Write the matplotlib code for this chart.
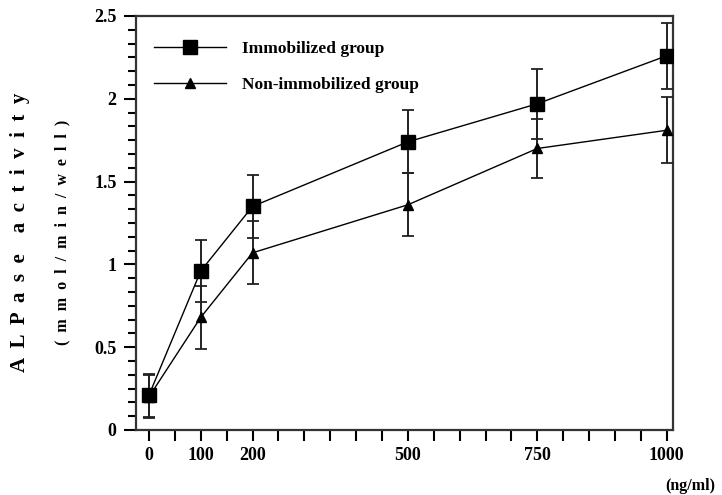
import numpy as np
import matplotlib
matplotlib.use('Agg')
from matplotlib import pyplot as plt
from matplotlib.ticker import MultipleLocator, FixedLocator

# DATA.
doses = [0, 100, 200, 500, 750, 1000]
immobilized = [0.21, 0.96, 1.35, 1.74, 1.97, 2.26]
immobilized_err = [0.13, 0.19, 0.19, 0.19, 0.21, 0.20]
non_immobilized = [0.20, 0.68, 1.07, 1.36, 1.70, 1.81]
non_immobilized_err = [0.13, 0.19, 0.19, 0.19, 0.18, 0.20]
x_tick_values = [0, 100, 200, 500, 750, 1000]
y_tick_values = [0, 0.5, 1, 1.5, 2, 2.5]
y_tick_labels = ['0', '0.5', '1', '1.5', '2', '2.5']

SERIF = ['Liberation Serif', 'DejaVu Serif']


def spaced(words, gap):
    # letter-spaced text, as in the original label
    return (' ' * (gap * 2)).join((' ' * gap).join(w) for w in words)


def main():
    plt.rcParams['font.family'] = SERIF
    plt.rcParams['font.weight'] = 'bold'

    fig = plt.figure(figsize=(7.22, 4.95), dpi=100)
    ax = fig.add_axes([136 / 722, 1 - 430 / 495, (673 - 136) / 722, (430 - 16) / 495])

    # SERIES.
    ax.errorbar(doses, immobilized, yerr=immobilized_err, color='black', lw=1.0,
                linestyle=(0, (4, 1)), marker='s', markersize=10, markerfacecolor='black',
                ecolor='#222222', elinewidth=1.4, capsize=4.5, capthick=1.3,
                label='Immobilized group', zorder=3)
    ax.errorbar(doses, non_immobilized, yerr=non_immobilized_err, color='black', lw=1.0,
                linestyle=(0, (4, 1)), marker='^', markersize=6.5, markerfacecolor='black',
                ecolor='#222222', elinewidth=1.4, capsize=4.5, capthick=1.3,
                label='Non-immobilized group', zorder=3)

    # AXES.
    ax.set_xlim(-25, 1012)
    ax.set_ylim(0, 2.5)
    ax.xaxis.set_major_locator(FixedLocator(x_tick_values))
    ax.xaxis.set_minor_locator(MultipleLocator(50))
    ax.set_xticklabels([str(v) for v in x_tick_values], fontsize=13, fontweight='bold')
    ax.yaxis.set_major_locator(FixedLocator(y_tick_values))
    ax.yaxis.set_minor_locator(MultipleLocator(0.5 / 6))
    ax.set_yticklabels(y_tick_labels, fontsize=13, fontweight='bold')

    ax.tick_params(axis='x', which='both', direction='out', length=8, width=1.5, pad=4)
    ax.tick_params(axis='y', which='major', direction='out', length=9, width=1.5, pad=5)
    ax.tick_params(axis='y', which='minor', direction='out', length=6, width=1.5)
    for spine in ax.spines.values():
        spine.set_linewidth(1.6)
        spine.set_color('#333333')

    # LEGEND.
    handles, labels = ax.get_legend_handles_labels()
    handles = [h[0] for h in handles]
    for h in handles:
        h.set_linestyle('-')
    ax.legend(handles, labels, loc='upper left', bbox_to_anchor=(0.034, 0.94),
              frameon=False, borderaxespad=0, borderpad=0, handlelength=4.15,
              handletextpad=0.9, labelspacing=1.15,
              prop={'family': SERIF, 'weight': 'bold', 'size': 12.5})

    # LABELS.
    fig.text(20 / 722, 1 - 232 / 495, spaced(['ALPase', 'activity'], 2), rotation=90,
             ha='center', va='center', fontsize=15, fontweight='bold')
    fig.text(62 / 722, 1 - 232 / 495, spaced(['(mmol/min/well)'], 2), rotation=90,
             ha='center', va='center', fontsize=11.5, fontweight='bold')
    fig.text(690 / 722, 1 - 486 / 495, '(ng/ml)', ha='center', va='center',
             fontsize=11.5, fontweight='bold')

    fig.savefig('out.png', dpi=100)


if __name__ == '__main__':
    main()
